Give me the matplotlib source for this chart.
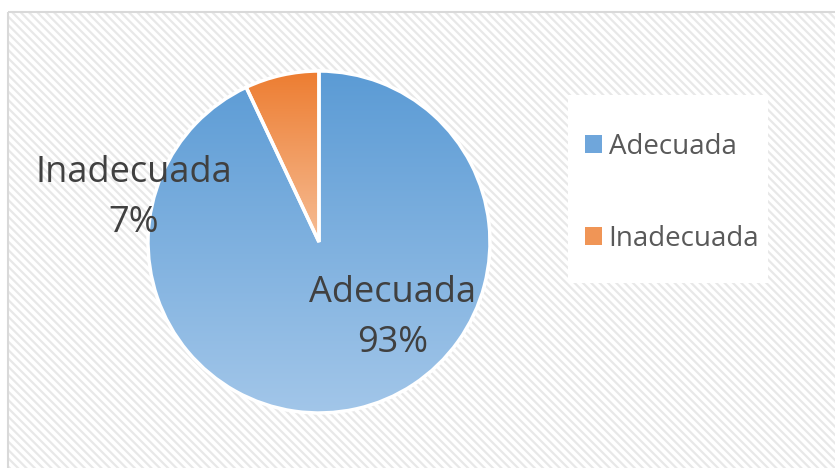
import matplotlib
matplotlib.use("Agg")
import matplotlib.pyplot as plt
import numpy as np
from matplotlib.colors import LinearSegmentedColormap
from matplotlib.patches import Rectangle, Patch

# data
labels = ["Adecuada", "Inadecuada"]
shares = [93, 7]
top_colors = ["#5B9BD5", "#ED7D31"]
bottom_colors = ["#A2C6E9", "#F6BD95"]

W, H = 835, 468
plt.rcParams["font.family"] = ["Open Sans", "DejaVu Sans"]
plt.rcParams["hatch.linewidth"] = 1.6

fig = plt.figure(figsize=(W / 100, H / 100), dpi=100)

# background axes in pixel coordinates
bg = fig.add_axes([0, 0, 1, 1])
bg.set_xlim(0, W)
bg.set_ylim(H, 0)
bg.axis("off")
bg.add_patch(Rectangle((8, 12), W, H, facecolor="white", edgecolor="#E8E8E8",
                       hatch="\\\\\\\\", lw=0))
bg.add_patch(Rectangle((8, 12), W, H, facecolor="none", edgecolor="#D9D9D9", lw=1.5))
# legend box
bg.add_patch(Rectangle((568, 95), 200, 188, facecolor="white", edgecolor="none"))

# pie axes: center (319, 242) px, radius 171 px
cx, cy, r = 319, 242, 171
pax = fig.add_axes([(cx - r) / W, (H - cy - r) / H, 2 * r / W, 2 * r / H])
wedges, _ = pax.pie(shares, startangle=90, counterclock=False, radius=1,
                    wedgeprops=dict(edgecolor="white", linewidth=2.5))

for w, c0, c1 in zip(wedges, top_colors, bottom_colors):
    cmap = LinearSegmentedColormap.from_list("g", [c1, c0])
    bb = w.get_path().get_extents(w.get_patch_transform())
    grad = np.linspace(0, 1, 256).reshape(-1, 1)
    im = pax.imshow(grad, cmap=cmap, origin="lower", aspect="auto",
                    extent=[bb.x0, bb.x1, bb.y0, bb.y1], zorder=1)
    im.set_clip_path(w)
    w.set_facecolor("none")
    w.set_zorder(2)
pax.set_xlim(-1, 1)
pax.set_ylim(-1, 1)
pax.set_aspect("equal")
pax.axis("off")

# data labels
txt_color = "#404040"
fig.text(134 / W, 1 - 198 / H, f"{labels[1]}\n{shares[1]}%", ha="center", va="center",
         fontsize=26, color=txt_color, linespacing=1.5)
fig.text(393 / W, 1 - 318 / H, f"{labels[0]}\n{shares[0]}%", ha="center", va="center",
         fontsize=26, color=txt_color, linespacing=1.5)

# legend
handles = [Patch(facecolor=c, edgecolor="none") for c in ["#6FA6DB", "#F09556"]]
fig.legend(handles, labels, loc="upper left",
           bbox_to_anchor=(560 / W, 1 - 108 / H), frameon=False,
           fontsize=20, labelcolor="#595959", handlelength=0.6, handleheight=0.6,
           handletextpad=0.25, labelspacing=2.3)

fig.savefig("out.png", dpi=100)
